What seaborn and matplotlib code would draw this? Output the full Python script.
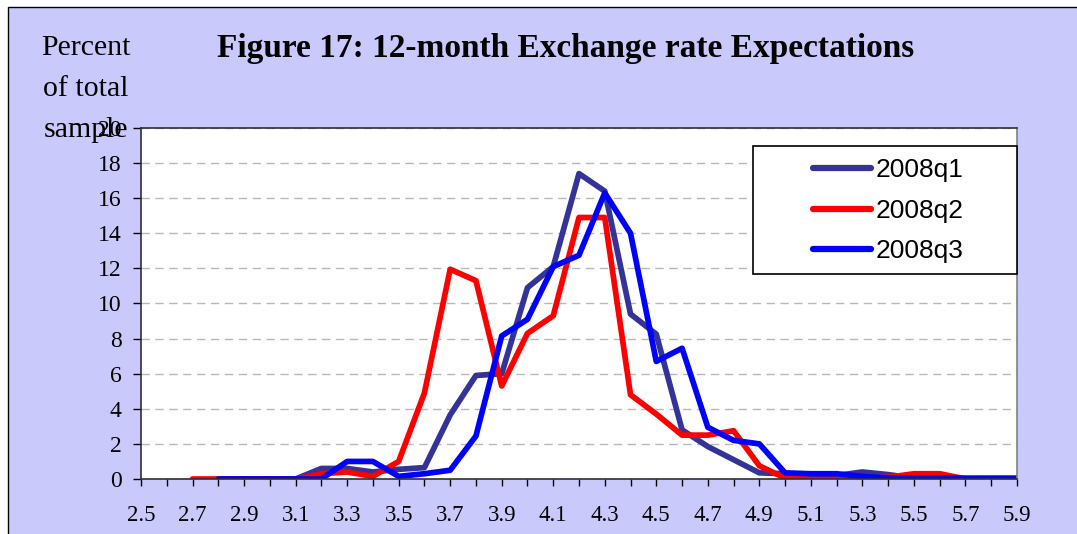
import numpy as np
import pandas as pd
import matplotlib
matplotlib.use('Agg')
import matplotlib.pyplot as plt
from matplotlib.patches import Rectangle
from matplotlib.ticker import MultipleLocator
import seaborn as sns

# Exchange rate buckets (x axis) and percent of total sample per survey round
rates = [2.5, 2.6, 2.7, 2.8, 2.9, 3.0, 3.1, 3.2, 3.3, 3.4, 3.5, 3.6, 3.7, 3.8, 3.9,
         4.0, 4.1, 4.2, 4.3, 4.4, 4.5, 4.6, 4.7, 4.8, 4.9, 5.0, 5.1, 5.2, 5.3, 5.4,
         5.5, 5.6, 5.7, 5.8, 5.9]
q1_2008 = [np.nan, np.nan, np.nan, 0, 0, 0, 0, 0.6, 0.6, 0.4, 0.55, 0.65, 3.65, 5.9, 6.0,
           10.9, 12.1, 17.4, 16.4, 9.4, 8.25, 2.8, 1.85, 1.1, 0.35, 0.3, 0.2, 0.2, 0.4, 0.25,
           0.05, 0, 0, 0, 0]
q2_2008 = [np.nan, np.nan, 0, 0, 0, 0, 0, 0.3, 0.4, 0.15, 1.0, 4.9, 11.95, 11.3, 5.3,
           8.3, 9.3, 14.9, 14.9, 4.8, 3.7, 2.5, 2.5, 2.75, 0.75, 0.05, 0, 0, 0, 0.1,
           0.3, 0.3, 0, 0, 0]
q3_2008 = [np.nan, np.nan, np.nan, 0, 0, 0, 0, 0, 1.0, 1.0, 0.15, 0.3, 0.5, 2.45, 8.15,
           9.1, 12.1, 12.75, 16.3, 14.0, 6.7, 7.45, 2.95, 2.2, 2.0, 0.35, 0.3, 0.3, 0.15, 0.05,
           0.05, 0.05, 0.05, 0.05, 0.05]
series_names = ['2008q1', '2008q2', '2008q3']
colors = {'2008q1': '#333399', '2008q2': '#FF0000', '2008q3': '#0000FF'}
x_labels = ['2.5', '2.7', '2.9', '3.1', '3.3', '3.5', '3.7', '3.9', '4.1',
            '4.3', '4.5', '4.7', '4.9', '5.1', '5.3', '5.5', '5.7', '5.9']

df = pd.concat([
    pd.DataFrame({'rate': rates, 'pct': vals, 'series': name})
    for name, vals in zip(series_names, [q1_2008, q2_2008, q3_2008])
]).dropna()

sns.set_style('white')
plt.rcParams['font.family'] = ['Liberation Serif', 'DejaVu Serif']
for key in ['text.color', 'axes.labelcolor', 'xtick.color', 'ytick.color']:
    plt.rcParams[key] = 'black'

fig = plt.figure(figsize=(10.77, 5.34), dpi=100)
fig.patch.set_facecolor('white')
# lavender chart panel with black border on left / top
fig.patches.append(Rectangle((8 / 1077, -0.02), 1.1, 1.02 - 7 / 534,
                             transform=fig.transFigure, facecolor='#C9C9FC',
                             edgecolor='black', linewidth=1.0, zorder=-10))

ax = fig.add_axes([141 / 1077, 1 - 479 / 534, (1017 - 141) / 1077, (479 - 128) / 534])
ax.set_facecolor('white')

sns.lineplot(data=df, x='rate', y='pct', hue='series', hue_order=series_names,
             palette=colors, linewidth=4.1, ax=ax, legend=True, sort=False)

ax.set_xlim(2.5, 5.9)
ax.set_ylim(0, 20)
ax.set_xticks([float(s) for s in x_labels])
ax.set_xticklabels(x_labels, fontsize=16.5)
ax.xaxis.set_minor_locator(MultipleLocator(0.1))
ax.yaxis.set_major_locator(MultipleLocator(2))
ax.tick_params(axis='x', which='both', direction='out', length=5, width=1,
               color='black', pad=14, bottom=True)
ax.tick_params(axis='y', direction='out', length=6, width=1, color='black',
               pad=8, labelsize=17, left=True)
ax.set_xlabel('')
ax.set_ylabel('')

ax.yaxis.grid(True, color='#B8B8B8', linestyle=(0, (6, 4)), linewidth=1.0)
ax.xaxis.grid(False)
ax.set_axisbelow(True)

for side in ['left', 'bottom', 'top']:
    ax.spines[side].set_color('#303030')
    ax.spines[side].set_linewidth(1.2)
ax.spines['right'].set_color('#808080')
ax.spines['right'].set_linewidth(1.2)

# legend box
ax.add_patch(Rectangle((0.6986, 0.584), 0.3014, 0.3647, transform=ax.transAxes,
                       facecolor='white', edgecolor='black', linewidth=1.2,
                       clip_on=False, zorder=4))
handles, labels = ax.get_legend_handles_labels()
leg = ax.legend(handles, labels, loc='center', bbox_to_anchor=(0.853, 0.764),
                frameon=False, prop={'family': 'Liberation Sans', 'size': 19},
                handlelength=2.2, handletextpad=0.2, labelspacing=0.62,
                borderpad=0.0)
for line in leg.get_lines():
    line.set_linewidth(4.5)
    line.set_solid_capstyle('round')
leg.set_zorder(5)

fig.text(0.5255, 1 - 49 / 534, 'Figure 17: 12-month Exchange rate Expectations',
         ha='center', va='center', fontsize=24, fontweight='bold')
fig.text(86 / 1077, 1 - 89 / 534, 'Percent\nof total\nsample', ha='center',
         va='center', fontsize=21.5, linespacing=1.74)

fig.savefig('out.png', dpi=100)
